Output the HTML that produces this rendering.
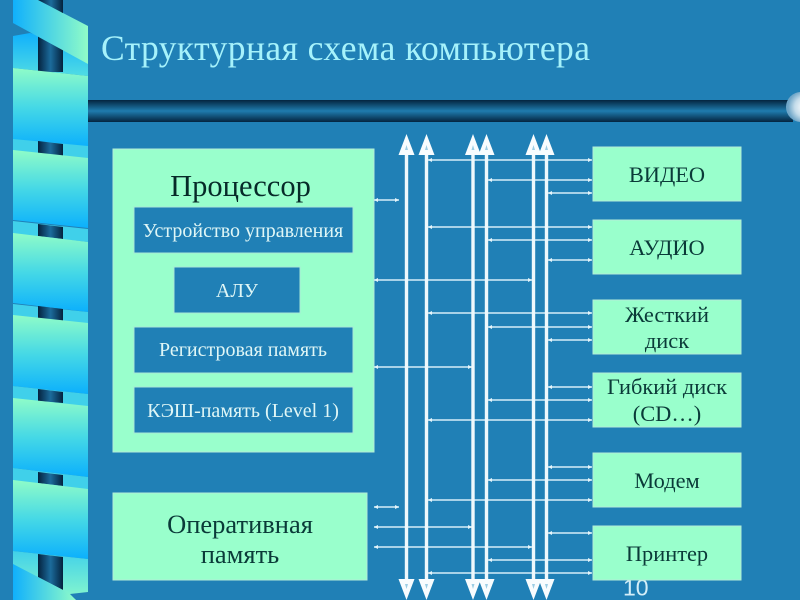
<!DOCTYPE html>
<html><head><meta charset="utf-8">
<style>
html,body{margin:0;padding:0;background:#2080b6;width:800px;height:600px;overflow:hidden}
svg{display:block}
text{font-family:"Liberation Serif","Noto Serif CJK SC",serif}
</style></head><body>
<svg width="800" height="600" viewBox="0 0 800 600" xmlns="http://www.w3.org/2000/svg">
<defs>
<linearGradient id="band" x1="0" y1="0" x2="0" y2="1"><stop offset="0" stop-color="#8ffcc8"/><stop offset="0.5" stop-color="#45d8e6"/><stop offset="1" stop-color="#0cb0fc"/></linearGradient>
<linearGradient id="top" x1="0" y1="0" x2="1" y2="0"><stop offset="0" stop-color="#10b0fc"/><stop offset="1" stop-color="#90fcc8"/></linearGradient>
<linearGradient id="strip" x1="0" y1="0" x2="0" y2="1"><stop offset="0" stop-color="#10b0fc"/><stop offset="1" stop-color="#50dce4"/></linearGradient>
<linearGradient id="low" x1="0" y1="0" x2="0" y2="1"><stop offset="0" stop-color="#40d0ea"/><stop offset="1" stop-color="#88f8cc"/></linearGradient>
<linearGradient id="cyl" x1="0" y1="0" x2="1" y2="0"><stop offset="0" stop-color="#04223e"/><stop offset="0.5" stop-color="#1c6c9c"/><stop offset="1" stop-color="#04223e"/></linearGradient>
<linearGradient id="bar" x1="0" y1="0" x2="0" y2="1"><stop offset="0" stop-color="#04243f"/><stop offset="0.5" stop-color="#1f7cae"/><stop offset="1" stop-color="#04243f"/></linearGradient>
<radialGradient id="ball" cx="0.62" cy="0.5" r="0.55"><stop offset="0" stop-color="#ffffff"/><stop offset="0.6" stop-color="#c4dcea"/><stop offset="1" stop-color="#6fa6c8"/></radialGradient>
</defs>
<rect width="800" height="600" fill="#2080b6"/>

<!-- left ribbon -->
<polygon points="13,36 30,33 38,35 88,50 88,76 13,68" fill="url(#strip)"/>
<rect x="38" y="0" width="25" height="72" fill="url(#cyl)"/>
<polygon points="13,0 38,0 88,26 88,64 13,23" fill="url(#top)"/>
<polygon points="39,0 63,0 63,13" fill="url(#cyl)"/>
<polygon points="13,68 88,76 88,147 13,140" fill="url(#band)"/>
<polygon points="13,139 88,146 88,159 13,151" fill="#40d0ea"/>
<polygon points="38,141 63,144 63,156 38,153" fill="url(#cyl)"/>
<polygon points="13,150 88,158 88,228 13,220" fill="url(#band)"/>
<polygon points="13,221 88,229 88,242 13,234" fill="#40d0ea"/>
<polygon points="38,224 63,227 63,239 38,236" fill="url(#cyl)"/>
<polygon points="13,233 88,242 88,312 13,303" fill="url(#band)"/>
<polygon points="13,304 88,312 88,324 13,316" fill="#40d0ea"/>
<polygon points="38,306 63,309 63,321 38,318" fill="url(#cyl)"/>
<polygon points="13,315 88,323 88,394 13,386" fill="url(#band)"/>
<polygon points="13,386 88,394 88,407 13,399" fill="#40d0ea"/>
<polygon points="38,389 63,392 63,403 38,401" fill="url(#cyl)"/>
<polygon points="13,398 88,406 88,477 13,468" fill="url(#band)"/>
<polygon points="13,468 88,477 88,490 13,481" fill="#40d0ea"/>
<polygon points="38,472 63,475 63,486 38,483" fill="url(#cyl)"/>
<polygon points="13,480 88,489 88,559 13,551" fill="url(#band)"/>
<polygon points="13,551 88,559 88,592 70,594 76,600 13,600" fill="url(#low)"/>
<polygon points="38,554 63,557 63,590 38,577" fill="url(#cyl)"/>
<polygon points="13,564 63,590 76,600 13,600" fill="url(#top)"/>

<!-- top bar -->
<rect x="88" y="100" width="705" height="22" fill="url(#bar)"/>
<circle cx="801" cy="107" r="15" fill="url(#ball)"/>

<text x="101" y="60" font-size="35.5" fill="#a6f2fb" textLength="489" lengthAdjust="spacing">Структурная схема компьютера</text>

<text x="623" y="595.5" font-size="23" fill="#d4eef8" style="font-family:'Liberation Sans',sans-serif">10</text>

<!-- Processor -->
<rect x="113" y="149" width="261" height="303" fill="#99ffcc" stroke="#b4ecd8" stroke-width="1"/>
<text x="240.5" y="196" font-size="30.5" fill="#062a28" text-anchor="middle">Процессор</text>
<g fill="#2080b6" stroke="#a9e8d6" stroke-width="1">
<rect x="134" y="207" width="219" height="46"/>
<rect x="174" y="267" width="126" height="46"/>
<rect x="134" y="327" width="219" height="46"/>
<rect x="134" y="387" width="219" height="46"/>
</g>
<g font-size="20" fill="#dff6f6" text-anchor="middle">
<text x="243" y="237">Устройство управления</text>
<text x="237" y="297">АЛУ</text>
<text x="243" y="356">Регистровая память</text>
<text x="243" y="417">КЭШ-память (Level 1)</text>
</g>

<!-- RAM -->
<rect x="113" y="493" width="254" height="87" fill="#99ffcc" stroke="#b4ecd8" stroke-width="1"/>
<g font-size="26.5" fill="#0a3a38" text-anchor="middle">
<text x="240" y="533">Оперативная</text>
<text x="240" y="563">память</text>
</g>

<!-- Devices -->
<g fill="#99ffcc" stroke="#b4ecd8" stroke-width="1">
<rect x="593" y="147" width="148" height="54"/>
<rect x="593" y="220" width="148" height="54"/>
<rect x="593" y="300" width="148" height="54"/>
<rect x="593" y="373" width="148" height="54"/>
<rect x="593" y="453" width="148" height="54"/>
<rect x="593" y="526" width="148" height="54"/>
</g>
<g font-size="22.4" fill="#0a3a38" text-anchor="middle">
<text x="667" y="182">ВИДЕО</text>
<text x="667" y="255">АУДИО</text>
<text x="667" y="322">Жесткий</text>
<text x="667" y="348">диск</text>
<text x="667" y="394">Гибкий диск</text>
<text x="667" y="421">(CD…)</text>
<text x="667" y="488">Модем</text>
<text x="667" y="561">Принтер</text>
</g>

<!-- horizontal connectors -->
<g stroke="#d6eef8" stroke-width="1.4" fill="none">
<path d="M428 160H592M488 180H592M548 193H592M374 200H399M428 227H592M488 240H592M548 260H592M374 280H532M428 313H592M488 327H592M548 340H592M374 367H472M548 387H592M488 400H592M428 420H592M548 467H592M488 480H592M428 500H592M374 507H399M374 527H472M548 533H592M374 547H532M488 560H592M428 573H592"/>
</g>
<g fill="#e4f4fa">
<path d="M428 160l4-2v4zM592 160l-4-2v4zM488 180l4-2v4zM592 180l-4-2v4zM548 193l4-2v4zM592 193l-4-2v4zM374 200l4-2v4zM399 200l-4-2v4zM428 227l4-2v4zM592 227l-4-2v4zM488 240l4-2v4zM592 240l-4-2v4zM548 260l4-2v4zM592 260l-4-2v4zM374 280l4-2v4zM532 280l-4-2v4zM428 313l4-2v4zM592 313l-4-2v4zM488 327l4-2v4zM592 327l-4-2v4zM548 340l4-2v4zM592 340l-4-2v4zM374 367l4-2v4zM472 367l-4-2v4zM548 387l4-2v4zM592 387l-4-2v4zM488 400l4-2v4zM592 400l-4-2v4zM428 420l4-2v4zM592 420l-4-2v4zM548 467l4-2v4zM592 467l-4-2v4zM488 480l4-2v4zM592 480l-4-2v4zM428 500l4-2v4zM592 500l-4-2v4zM374 507l4-2v4zM399 507l-4-2v4zM374 527l4-2v4zM472 527l-4-2v4zM548 533l4-2v4zM592 533l-4-2v4zM374 547l4-2v4zM532 547l-4-2v4zM488 560l4-2v4zM592 560l-4-2v4zM428 573l4-2v4zM592 573l-4-2v4z"/>
</g>

<!-- bus lines -->
<g stroke="#eef8fc" stroke-width="3.4" fill="none">
<path d="M406.5 150V580M426.5 150V580M473 150V580M486.5 150V580M533.5 150V580M546.5 150V580"/>
</g>
<g fill="#f8fcfe">
<path d="M406.5 134l8 21h-16zM426.5 134l8 21h-16zM473 134l8 21h-16zM486.5 134l8 21h-16zM533.5 134l8 21h-16zM546.5 134l8 21h-16z"/>
<path d="M406.5 600l8-21h-16zM426.5 600l8-21h-16zM473 600l8-21h-16zM486.5 600l8-21h-16zM533.5 600l8-21h-16zM546.5 600l8-21h-16z"/>
</g>
<g fill="#9ccde4">
<path d="M406.5 145l1.5 5h-3zM426.5 145l1.5 5h-3zM473 145l1.5 5h-3zM486.5 145l1.5 5h-3zM533.5 145l1.5 5h-3zM546.5 145l1.5 5h-3z"/>
<path d="M406.5 589l1.5-5h-3zM426.5 589l1.5-5h-3zM473 589l1.5-5h-3zM486.5 589l1.5-5h-3zM533.5 589l1.5-5h-3zM546.5 589l1.5-5h-3z"/>
</g>
</svg>
</body></html>
